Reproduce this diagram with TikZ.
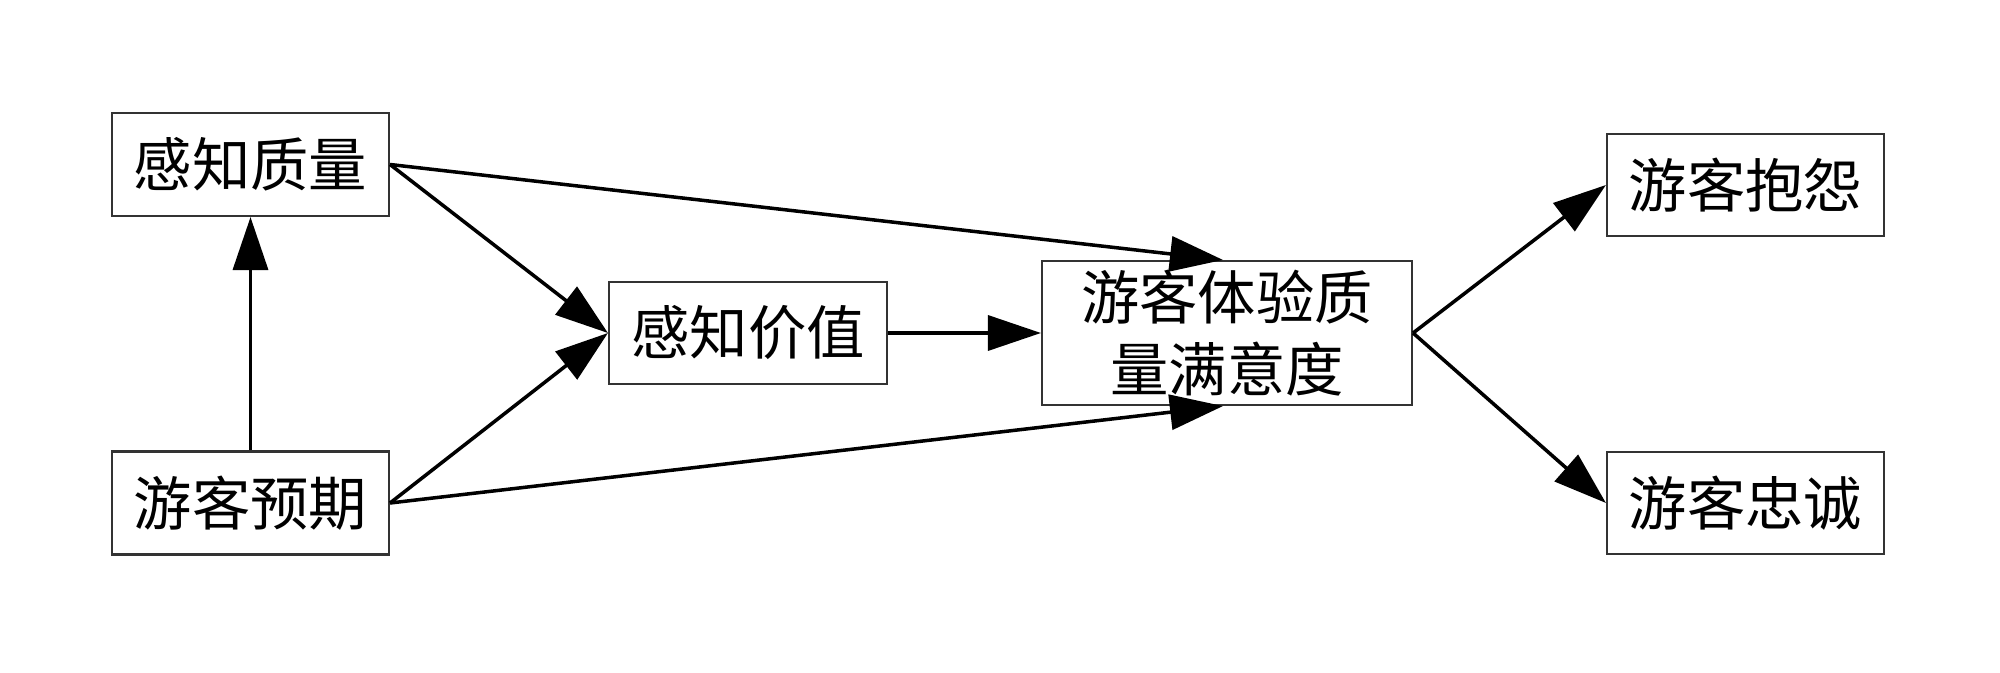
\documentclass[tikz,border=0pt]{standalone}
\usepackage{fontspec}
\newfontfamily\cjk{Noto Sans CJK SC}
\usetikzlibrary{arrows.meta}
\begin{document}
\begin{tikzpicture}[
  box/.style={draw=black!80, line width=0.6pt, minimum height=1.03cm, inner sep=0pt,
    font=\cjk\fontsize{16.6}{20.5}\selectfont, align=center},
  arr/.style={line width=1pt, -{Triangle[length=0.53cm, width=0.35cm]}}
]
\useasboundingbox (0,0) rectangle (20,6.72);
\node[box, minimum width=2.77cm] (q) at (2.505,5.075) {感知质量};
\node[box, minimum width=2.77cm] (e) at (2.505,1.69) {游客预期};
\node[box, minimum width=2.78cm, minimum height=1.02cm] (v) at (7.48,3.39) {感知价值};
\node[box, minimum width=3.70cm, minimum height=1.44cm] (s) at (12.27,3.39) {游客体验质\\量满意度};
\node[box, minimum width=2.77cm, minimum height=1.02cm] (c) at (17.455,4.87) {游客抱怨};
\node[box, minimum width=2.77cm, minimum height=1.02cm] (l) at (17.455,1.69) {游客忠诚};
\draw[arr] (e.north) -- (q.south);
\draw[arr] (q.east) -- (v.west);
\draw[arr] (e.east) -- (v.west);
\draw[arr] (v.east) -- (s.west);
\draw[arr] (q.east) -- ([xshift=-0.04cm]s.north);
\draw[arr] (e.east) -- ([xshift=-0.04cm]s.south);
\draw[arr] (s.east) -- (c.west);
\draw[arr] (s.east) -- (l.west);
\end{tikzpicture}
\end{document}
